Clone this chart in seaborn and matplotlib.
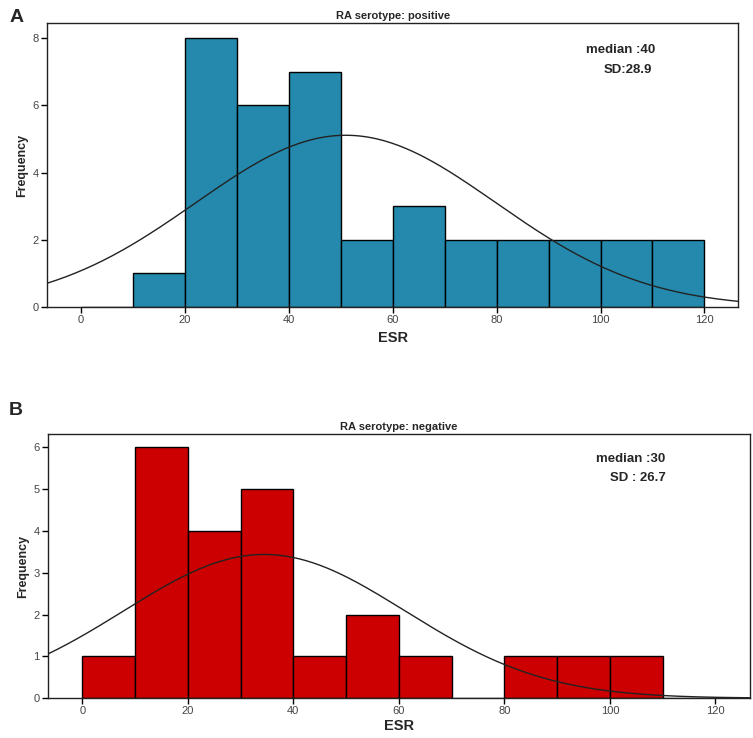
import numpy as np
import pandas as pd
import matplotlib
matplotlib.use("Agg")
import matplotlib.pyplot as plt
import seaborn as sns

# ESR histogram values (bin width 10)
bin_edges = list(range(0, 130, 10))
pos_counts = [0, 1, 8, 6, 7, 2, 3, 2, 2, 2, 2, 2]
neg_counts = [1, 6, 4, 5, 1, 2, 1, 0, 1, 1, 1, 0]

# normal curve parameters (mean estimated from curve peak, SD from label)
pos_mean, pos_sd = 51.0, 28.9
neg_mean, neg_sd = 34.5, 26.7

pos_title = "RA serotype: positive"
neg_title = "RA serotype: negative"
pos_note = ["median :40", "SD:28.9"]
neg_note = ["median :30", "SD : 26.7"]

sns.set_style("white")
plt.rcParams['font.family'] = ['Liberation Sans', 'DejaVu Sans']

fig = plt.figure(figsize=(7.53, 7.38), dpi=100)
ax_a = fig.add_axes([0.0624, 0.584, 0.918, 0.385])
ax_b = fig.add_axes([0.0637, 0.054, 0.932, 0.358])


def panel(ax, counts, mean, sd, color, title, note, ymax, yticks, lpad):
    df = pd.DataFrame({"ESR": [e + 5 for e in bin_edges[:-1]], "n": counts})
    sns.histplot(data=df, x="ESR", weights="n", bins=bin_edges, ax=ax,
                 color=color, alpha=1, edgecolor="black", linewidth=1.0)
    xs = np.linspace(-6.5, 126.5, 300)
    ys = sum(counts) * 10 * np.exp(-0.5 * ((xs - mean) / sd) ** 2) / (sd * np.sqrt(2 * np.pi))
    sns.lineplot(x=xs, y=ys, ax=ax, color="#222222", linewidth=1.0)
    ax.set_xlim(-6.5, 126.5)
    ax.set_ylim(0, ymax)
    ax.set_xticks(range(0, 121, 20))
    ax.set_yticks(yticks)
    ax.tick_params(axis="both", labelsize=8, labelcolor="#444444", length=4,
                   width=1, color="black", direction="out", pad=2)
    ax.tick_params(axis="both", which="both", bottom=True, left=True)
    for s in ax.spines.values():
        s.set_color("#222222")
        s.set_linewidth(1.0)
    ax.set_xlabel("ESR", fontsize=10.5, fontweight="bold", labelpad=lpad)
    ax.set_ylabel("Frequency", fontsize=9, fontweight="bold", labelpad=3)
    ax.set_title(title, fontsize=8, fontweight="bold", pad=3)
    ax.text(0.83, 0.905, note[0], transform=ax.transAxes, ha="center",
            va="center", fontsize=9.5, fontweight="bold")
    ax.text(0.84, 0.835, note[1], transform=ax.transAxes, ha="center",
            va="center", fontsize=9.5, fontweight="bold")


panel(ax_a, pos_counts, pos_mean, pos_sd, "#2489AD", pos_title, pos_note, 8.45, [0, 2, 4, 6, 8], 4)
panel(ax_b, neg_counts, neg_mean, neg_sd, "#CC0000", neg_title, neg_note, 6.32, [0, 1, 2, 3, 4, 5, 6], 2)

fig.text(0.012, 0.988, "A", fontsize=14, fontweight="bold", va="top")
fig.text(0.012, 0.455, "B", fontsize=14, fontweight="bold", va="top")

fig.savefig("out.png", dpi=100)
